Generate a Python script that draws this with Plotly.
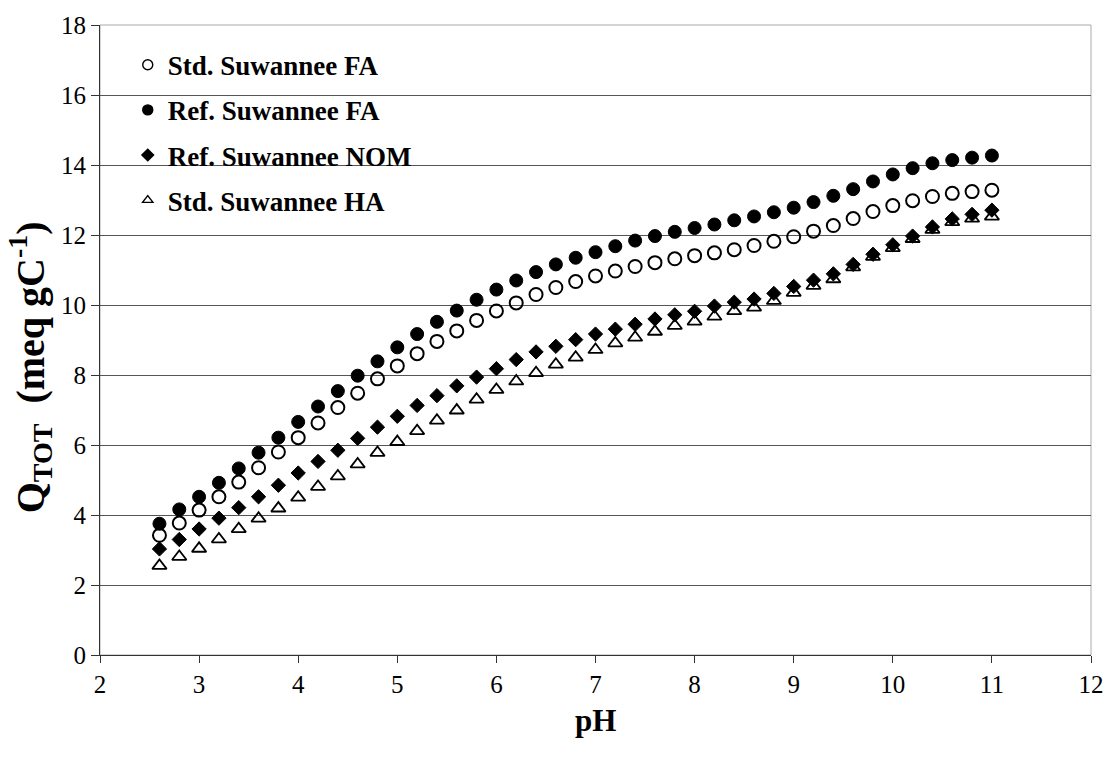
import plotly.graph_objects as go

ph = [2.6, 2.8, 3.0, 3.2, 3.4, 3.6, 3.8, 4.0, 4.2, 4.4, 4.6, 4.8, 5.0, 5.2, 5.4, 5.6, 5.8, 6.0,
      6.2, 6.4, 6.6, 6.8, 7.0, 7.2, 7.4, 7.6, 7.8, 8.0, 8.2, 8.4, 8.6, 8.8, 9.0, 9.2, 9.4, 9.6,
      9.8, 10.0, 10.2, 10.4, 10.6, 10.8, 11.0]

std_fa = [3.42, 3.77, 4.14, 4.52, 4.94, 5.35, 5.80, 6.21, 6.63, 7.07, 7.48, 7.89, 8.26, 8.61,
          8.96, 9.26, 9.56, 9.83, 10.06, 10.30, 10.50, 10.67, 10.83, 10.97, 11.10, 11.21, 11.32,
          11.41, 11.49, 11.58, 11.70, 11.82, 11.95, 12.11, 12.27, 12.47, 12.67, 12.84, 12.98,
          13.10, 13.19, 13.24, 13.28]

ref_fa = [3.75, 4.16, 4.52, 4.92, 5.33, 5.78, 6.21, 6.66, 7.10, 7.54, 7.98, 8.39, 8.79, 9.17,
          9.52, 9.84, 10.15, 10.44, 10.70, 10.94, 11.16, 11.35, 11.51, 11.68, 11.84, 11.97,
          12.09, 12.20, 12.30, 12.42, 12.53, 12.65, 12.78, 12.94, 13.12, 13.31, 13.53, 13.73,
          13.91, 14.05, 14.14, 14.21, 14.27]

ref_nom = [3.03, 3.30, 3.60, 3.91, 4.21, 4.52, 4.85, 5.20, 5.53, 5.85, 6.19, 6.51, 6.82, 7.13,
           7.41, 7.69, 7.94, 8.18, 8.44, 8.66, 8.82, 9.01, 9.17, 9.31, 9.45, 9.60, 9.72, 9.82,
           9.97, 10.08, 10.17, 10.33, 10.53, 10.71, 10.89, 11.16, 11.45, 11.72, 11.97, 12.23,
           12.46, 12.59, 12.71]

std_ha = [2.55, 2.81, 3.04, 3.31, 3.60, 3.90, 4.19, 4.50, 4.81, 5.11, 5.45, 5.78, 6.09, 6.40,
          6.70, 6.99, 7.30, 7.58, 7.82, 8.06, 8.30, 8.50, 8.72, 8.91, 9.07, 9.24, 9.41, 9.53,
          9.67, 9.83, 9.93, 10.12, 10.35, 10.55, 10.74, 11.08, 11.38, 11.63, 11.89, 12.15,
          12.37, 12.47, 12.53]

names = ["Std. Suwannee FA", "Ref. Suwannee FA", "Ref. Suwannee NOM", "Std. Suwannee HA"]
series = [std_fa, ref_fa, ref_nom, std_ha]
symbols = ["circle-open", "circle", "diamond", "triangle-up-open"]
sizes = [13, 13, 11, 12.5]
line_widths = [2, 1, 1, 1.8]
legend_sizes = [10, 10, 9, 9]

FONT = "Liberation Serif, Times New Roman, serif"

fig = go.Figure()
for name, ys, sym, sz, lw in zip(names, series, symbols, sizes, line_widths):
    fig.add_trace(go.Scatter(
        x=ph, y=ys, mode="markers", name=name, showlegend=False,
        marker=dict(symbol=sym, size=sz, color="black", line=dict(color="black", width=lw)),
    ))

for i, (name, sym, sz) in enumerate(zip(names, symbols, legend_sizes)):
    fig.add_trace(go.Scatter(
        x=[None], y=[None], mode="markers", name=name, legendgroup=f"g{i}",
        marker=dict(symbol=sym, size=sz, color="black", line=dict(color="black", width=1.4)),
    ))

fig.update_layout(
    width=1116, height=760,
    margin=dict(l=100, r=15, t=23, b=105),
    paper_bgcolor="white", plot_bgcolor="white",
    font=dict(family=FONT, color="black"),
    showlegend=True,
    legend=dict(
        x=0.028, y=0.975, xanchor="left", yanchor="top",
        bgcolor="rgba(0,0,0,0)", borderwidth=0,
        font=dict(family=FONT, size=27, color="black", weight="bold"),
        tracegroupgap=7, traceorder="grouped", itemwidth=30,
    ),
    xaxis=dict(
        range=[2, 12], tickmode="array", tickvals=list(range(2, 13)),
        showgrid=False, zeroline=False,
        showline=True, linecolor="#333", linewidth=1,
        ticks="outside", ticklen=7, tickcolor="#333",
        tickfont=dict(family=FONT, size=25, color="black"),
        ticklabeloverflow="allow",
    ),
    yaxis=dict(
        range=[0, 18], tickmode="array", tickvals=list(range(0, 19, 2)),
        showgrid=True, gridcolor="#555", gridwidth=1, zeroline=False,
        showline=True, linecolor="#333", linewidth=1,
        ticks="outside", ticklen=8, tickcolor="#333",
        tickfont=dict(family=FONT, size=25, color="black"),
    ),
    shapes=[dict(type="rect", xref="paper", yref="paper", x0=0, x1=1, y0=0, y1=1,
                 line=dict(color="#aaa", width=1), layer="below")],
    annotations=[
        dict(text="<b>pH</b>", xref="paper", yref="paper", x=0.5, y=-0.104,
             xanchor="center", yanchor="middle", showarrow=False,
             font=dict(family=FONT, size=31, color="black")),
        dict(text="<b>Q<sub>TOT</sub>&nbsp;&nbsp;(meq gC<sup>-1</sup>)</b>", xref="paper", yref="paper",
             x=-0.0704, y=0.457, xanchor="center", yanchor="middle", textangle=-90,
             showarrow=False, font=dict(family=FONT, size=40, color="black")),
    ],
)

fig.write_html(
    "out.html",
    config={"displayModeBar": False},
    post_script="document.body.style.margin='0';document.body.style.padding='0';",
)
